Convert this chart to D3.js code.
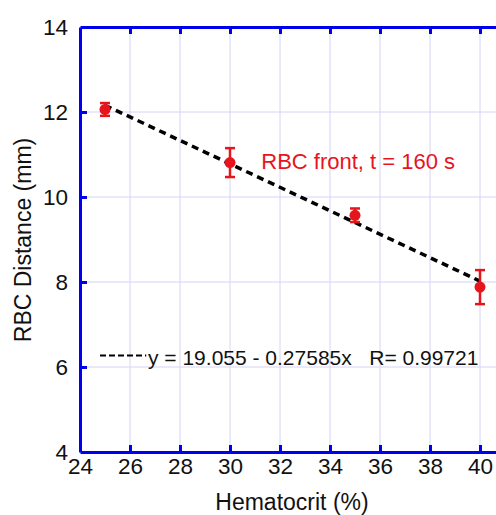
<!DOCTYPE html>
<html>
<head>
<meta charset="utf-8">
<script src="https://cdn.jsdelivr.net/npm/d3@7"></script>
<style>
  body { margin: 0; background: #fff; overflow: hidden; }
  svg { display: block; font-family: "Liberation Sans", Arial, sans-serif; }
</style>
</head>
<body>
<svg width="496" height="515"></svg>
<script>
// data
const hematocrit = [25, 30, 35, 40];
const distance = [12.06, 10.81, 9.57, 7.88];
const errors = [0.15, 0.34, 0.16, 0.4];
const xTicks = [24, 26, 28, 30, 32, 34, 36, 38, 40];
const yTicks = [4, 6, 8, 10, 12, 14];
const fitA = 19.055, fitB = -0.27585;
const fitText = "y = 19.055 - 0.27585x   R= 0.99721";

const svg = d3.select("svg");
const margin = { left: 80, top: 27 };
const width = 450, height = 425;

const AXIS = "#0000ee", GRID = "#d4d4f6", RED = "#e8141c";

const x = d3.scaleLinear().domain([24, 42]).range([0, width]);
const y = d3.scaleLinear().domain([4, 14]).range([height, 0]);

const g = svg.append("g").attr("transform", `translate(${margin.left},${margin.top})`);

// grid
g.append("g").selectAll("line").data(xTicks.slice(1)).enter().append("line")
  .attr("x1", d => x(d)).attr("x2", d => x(d))
  .attr("y1", 0).attr("y2", height)
  .attr("stroke", GRID).attr("stroke-width", 1);
g.append("g").selectAll("line").data(yTicks.slice(1, -1)).enter().append("line")
  .attr("x1", 0).attr("x2", width)
  .attr("y1", d => y(d)).attr("y2", d => y(d))
  .attr("stroke", GRID).attr("stroke-width", 1);

// axes (inward ticks)
function styleAxis(sel) {
  sel.select(".domain").attr("stroke", AXIS).attr("stroke-width", 3);
  sel.selectAll(".tick line").attr("stroke", AXIS).attr("stroke-width", 3);
  sel.selectAll(".tick text").attr("fill", "#111").style("font-size", "22.5px");
}
g.append("g").attr("transform", `translate(0,${height})`)
  .call(d3.axisBottom(x).tickValues(xTicks).tickSizeInner(-7).tickSizeOuter(0).tickPadding(6))
  .call(styleAxis);
g.append("g")
  .call(d3.axisTop(x).tickValues(xTicks).tickSizeInner(-7).tickSizeOuter(0).tickFormat(""))
  .call(styleAxis);
g.append("g")
  .call(d3.axisLeft(y).tickValues(yTicks).tickSizeInner(-7).tickSizeOuter(0).tickPadding(12))
  .call(styleAxis);
g.append("g").attr("transform", `translate(${width},0)`)
  .call(d3.axisRight(y).tickValues(yTicks).tickSizeInner(-7).tickSizeOuter(0).tickFormat(""))
  .call(styleAxis);
g.selectAll(".tick").filter(d => d === 24 || d === 4 || d === 14).select("line").remove();

// fit line
const fit = [25, 40].map(h => [h, fitA + fitB * h]);
g.append("path")
  .attr("d", d3.line().x(d => x(d[0])).y(d => y(d[1]))(fit))
  .attr("fill", "none").attr("stroke", "#000")
  .attr("stroke-width", 3.5).attr("stroke-dasharray", "7,5");

// error bars + points
const pts = hematocrit.map((h, i) => ({ h, v: distance[i], e: errors[i] }));
const eb = g.append("g").attr("stroke", RED).attr("stroke-width", 2.5);
eb.selectAll(".v").data(pts).enter().append("line")
  .attr("x1", d => x(d.h)).attr("x2", d => x(d.h))
  .attr("y1", d => y(d.v + d.e)).attr("y2", d => y(d.v - d.e));
eb.selectAll(".t").data(pts.flatMap(d => [d.v + d.e, d.v - d.e].map(v => ({ h: d.h, v }))))
  .enter().append("line")
  .attr("x1", d => x(d.h) - 5).attr("x2", d => x(d.h) + 5)
  .attr("y1", d => y(d.v)).attr("y2", d => y(d.v));
g.append("g").selectAll("circle").data(pts).enter().append("circle")
  .attr("cx", d => x(d.h)).attr("cy", d => y(d.v)).attr("r", 5.5)
  .attr("fill", RED);

// annotation
g.append("text").attr("x", x(31.25)).attr("y", y(10.66))
  .attr("fill", RED).style("font-size", "22px").text("RBC front, t = 160 s");

// legend
g.append("line").attr("x1", x(24.8)).attr("x2", x(26.65))
  .attr("y1", y(6.27)).attr("y2", y(6.27))
  .attr("stroke", "#000").attr("stroke-width", 2).attr("stroke-dasharray", "6,3");
g.append("text").attr("x", x(26.72)).attr("y", y(6.05))
  .attr("fill", "#111").style("font-size", "21px")
  .attr("xml:space", "preserve").style("white-space", "pre").text(fitText);

// axis titles
svg.append("text").attr("x", 292).attr("y", 510).attr("text-anchor", "middle")
  .attr("fill", "#111").style("font-size", "23px").text("Hematocrit (%)");
svg.append("text").attr("transform", "translate(31,240) rotate(-90)")
  .attr("text-anchor", "middle")
  .attr("fill", "#111").style("font-size", "23px").text("RBC Distance (mm)");
</script>
</body>
</html>
